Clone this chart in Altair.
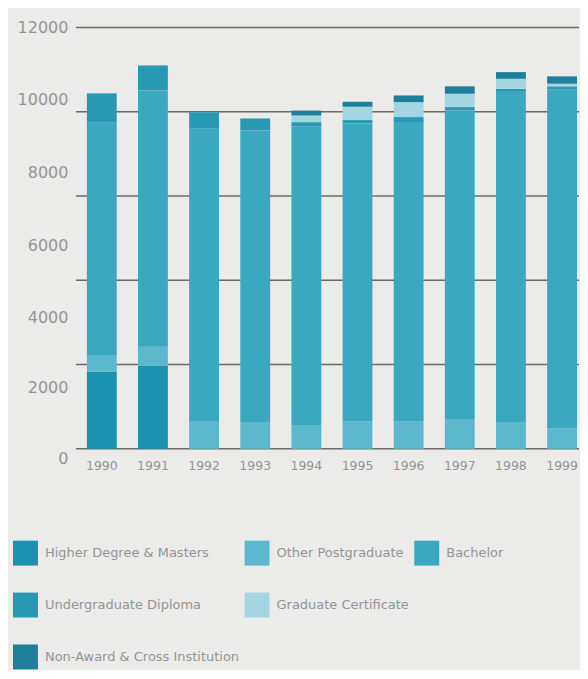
import altair as alt
import pandas as pd

years = ["1990", "1991", "1992", "1993", "1994", "1995", "1996", "1997", "1998", "1999"]
series = [
    "Higher Degree & Masters",
    "Other Postgraduate",
    "Bachelor",
    "Undergraduate Diploma",
    "Graduate Certificate",
    "Non-Award & Cross Institution",
]
higher_degree = [2200, 2360, 0, 0, 0, 0, 0, 0, 0, 0]
other_postgrad = [475, 550, 770, 740, 680, 780, 780, 825, 740, 590]
bachelor = [6625, 7300, 8360, 8330, 8500, 8490, 8530, 8815, 9450, 9640]
undergrad_diploma = [825, 710, 455, 340, 125, 95, 140, 95, 65, 95]
graduate_cert = [0, 0, 0, 0, 190, 380, 425, 380, 285, 75]
non_award = [0, 0, 0, 0, 140, 140, 190, 210, 190, 210]
colors = ["#1b93b0", "#5cb9cd", "#3aa9c0", "#2799b3", "#a3d6e0", "#1d7f99"]
grid_values = [0, 2400, 4800, 7200, 9600, 12000]
y_labels = [0, 2000, 4000, 6000, 8000, 10000, 12000]

background = "#ebebea"
# legend layout: an empty slot after "Graduate Certificate" so the last entry wraps to a third row
legend_domain = series[:5] + [" "] + series[5:]
legend_range = colors[:5] + [background] + colors[5:]

values_by_series = [higher_degree, other_postgrad, bachelor, undergrad_diploma, graduate_cert, non_award]
rows = []
for si, (name, vals) in enumerate(zip(series, values_by_series)):
    for yr, v in zip(years, vals):
        rows.append({"year": yr, "series": name, "value": v, "ord": si})
df = pd.DataFrame(rows)
grid_df = pd.DataFrame({"g": grid_values})

text_color = "#959595"
font = "DejaVu Sans"

y_scale = alt.Scale(domain=[0, 12000], nice=False)
y_axis = alt.Axis(
    values=y_labels, format="d", grid=False, domain=False, ticks=False, title=None,
    labelPadding=8, labelFontSize=16, labelColor=text_color, labelFont=font,
    labelOffset={
        "condition": [
            {"test": "datum.value >= 12000", "value": 0},
            {"test": "datum.value >= 10000", "value": 2},
            {"test": "datum.value >= 8000", "value": 5},
            {"test": "datum.value >= 6000", "value": 7},
            {"test": "datum.value >= 2000", "value": 9},
        ],
        "value": 10,
    },
)

grid = alt.Chart(grid_df).mark_rule(color="#6f6a66", strokeWidth=1.5).encode(
    y=alt.Y("g:Q", scale=y_scale, axis=y_axis, title=None)
)

bars = alt.Chart(df).mark_bar().encode(
    x=alt.X(
        "year:N",
        sort=years,
        title=None,
        scale=alt.Scale(paddingInner=0.416, paddingOuter=0.127, align=0.846),
        axis=alt.Axis(
            labelAngle=0, domain=False, ticks=False, labelPadding=11,
            labelFontSize=12.5, labelColor=text_color, labelFont=font,
        ),
    ),
    y=alt.Y("value:Q", stack="zero", title=None, scale=y_scale, axis=y_axis),
    color=alt.Color(
        "series:N",
        scale=alt.Scale(domain=legend_domain, range=legend_range),
        legend=alt.Legend(
            title=None, orient="none", legendX=-63, legendY=514, columns=3,
            direction="horizontal",
            symbolType="square", symbolSize=625, symbolStrokeWidth=0, symbolOpacity=1,
            labelFontSize=13, labelColor=text_color, labelFont=font, labelOffset=7,
            rowPadding=27, columnPadding=5, labelLimit=300,
        ),
    ),
    order=alt.Order("ord:Q", sort="ascending"),
)

chart = alt.layer(grid, bars).properties(
    width=504,
    height=422,
    background=background,
    padding={"left": 5, "top": 11, "right": 0, "bottom": 0},
).configure_view(stroke=None)

chart.save("out.html", embed_options={"renderer": "svg", "actions": False})
